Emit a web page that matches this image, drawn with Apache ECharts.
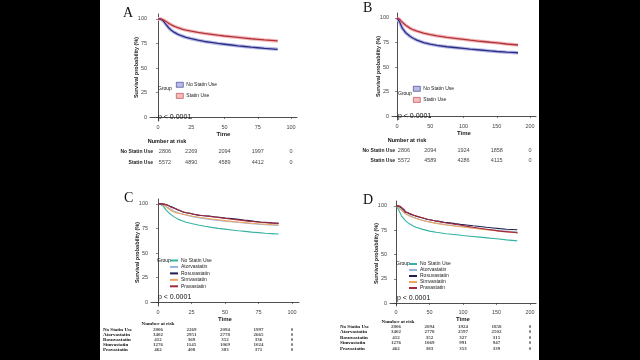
<!DOCTYPE html>
<html><head><meta charset="utf-8">
<script src="https://cdn.jsdelivr.net/npm/echarts@6/dist/echarts.min.js"></script>
<style>html,body{margin:0;padding:0;background:#000}#c{width:640px;height:360px}</style>
</head><body><div id="c"></div>
<script>
// ---------- data ----------
const survTicks = [0, 25, 50, 75, 100];
const timeTicksA = [0, 25, 50, 75, 100];
const timeTicksB = [0, 50, 100, 150, 200];
const groups2 = ['No Statin Use', 'Statin Use'];
const groups5 = ['No Statin Use', 'Atorvastatin', 'Rosuvastatin', 'Simvastatin', 'Pravastatin'];

// Panel A (time, survival %)
const aNoStatin = [[0,100],[2,99.8],[4,98],[6,94.5],[8,91],[10,88.5],[12,86.5],[15,84.3],[18,82.6],[21,81.2],[25,79.8],[30,78.3],[35,77],[40,76],[45,75],[50,74.2],[55,73.4],[60,72.6],[65,71.9],[70,71.2],[75,70.6],[80,70],[85,69.5],[90,69]];
const aStatin = [[0,100],[2,100],[4,99],[6,97.3],[8,95.5],[10,94],[12,92.6],[15,91],[18,89.7],[21,88.6],[25,87.5],[30,86.3],[35,85.2],[40,84.3],[45,83.4],[50,82.6],[55,81.9],[60,81.2],[65,80.5],[70,79.8],[75,79.2],[80,78.6],[85,78.1],[90,77.6]];
// Panel B
const bNoStatin = [[0,100],[2,99],[4,96],[6,92.5],[8,89.5],[10,87.5],[13,85],[16,83],[20,81],[25,79],[30,77.3],[40,74.8],[50,73.2],[60,72],[75,70.6],[90,69.6],[100,68.9],[110,68.2],[125,67.3],[140,66.4],[150,65.8],[165,65.1],[182,64.5]];
const bStatin = [[0,100],[2,99.6],[4,98.5],[6,97],[8,95.5],[10,94.2],[13,92.5],[16,91],[20,89.3],[25,87.7],[30,86.5],[40,84.5],[50,83],[60,81.8],[75,80.2],[90,79],[100,78.2],[110,77.3],[125,76.2],[140,75.2],[150,74.6],[165,73.4],[182,72.4]];
// Panel C
const cNoStatin = [[0,100],[2,99.6],[4,97.5],[6,94],[8,91],[10,88.8],[12,86.8],[15,84.5],[18,82.8],[21,81.3],[25,80],[30,78.5],[35,77.2],[40,76.1],[45,75.1],[50,74.3],[55,73.5],[60,72.7],[65,72],[70,71.3],[75,70.7],[80,70.1],[85,69.7],[90,69.3]];
const cAtorva = [[0,100],[3,99.5],[6,97.5],[9,95],[12,92.8],[15,91],[20,89],[25,87.3],[30,86],[40,84],[50,82.4],[60,81],[70,79.8],[80,78.8],[90,78]];
const cRosuva = [[0,100],[3,99.5],[5,98.8],[7,97.5],[9,96.6],[11,95],[13,93.8],[15,92.2],[18,91],[21,90.5],[24,89.3],[27,88.6],[30,88],[34,87.6],[38,86.9],[42,86.4],[46,85.5],[50,85],[55,84.2],[60,83.5],[64,83],[68,82.2],[72,81.6],[76,81.2],[80,80.7],[85,80.3],[90,80]];
const cSimva = [[0,100],[2,100],[4,98.5],[6,97],[8,95],[10,93],[12,91.8],[14,90.8],[17,90],[20,89.2],[24,88],[28,87],[32,86.2],[36,85.4],[40,84.5],[45,83.8],[50,83],[55,82.2],[60,81.5],[65,80.9],[70,80.3],[75,79.8],[80,79.4],[85,79],[90,78.8]];
const cPrava = [[0,100],[4,99.3],[6,98],[8,96.5],[10,95.4],[13,93.5],[16,91.5],[19,90.5],[23,89.4],[27,88.5],[31,87.9],[35,87],[40,86.2],[45,85.5],[49,84.6],[54,84],[58,83.2],[63,82.5],[67,81.9],[72,81.3],[77,80.8],[82,80.4],[86,80.2],[90,79.9]];
// Panel D
const dNoStatin = [[0,100],[2,99],[4,96],[6,93],[8,90],[10,88],[13,85.5],[16,83.5],[20,81.5],[25,79.5],[30,78],[40,75.8],[50,74],[60,72.8],[75,71.3],[90,70.3],[100,69.5],[110,68.8],[125,67.8],[140,66.8],[150,66.2],[165,65],[181,64]];
const dAtorva = [[0,100],[3,99],[6,97],[9,95],[12,93.3],[16,91.5],[20,90],[25,88.5],[30,87.2],[40,85],[50,83.5],[60,82.2],[75,80.6],[90,79.3],[100,78.5],[115,77.3],[130,76.2],[145,75.2],[160,74.3],[181,73.4]];
const dRosuva = [[0,100],[3,99.5],[5,98],[8,96],[11,94],[14,92.8],[17,91.5],[21,90.5],[25,89.3],[30,88.2],[35,87.5],[40,86.3],[46,85.5],[52,84.6],[58,84],[65,83.2],[72,82.5],[80,81.7],[88,81],[96,80.3],[105,79.5],[115,78.8],[125,78],[135,77.3],[145,76.6],[155,76],[165,75.5],[181,75]];
const dSimva = [[0,100],[3,99.3],[6,97.2],[9,95],[12,93],[16,91],[20,89.6],[25,88.3],[30,87],[40,85],[50,83.4],[60,82],[75,80.3],[90,79],[100,78.2],[115,77],[130,75.8],[145,74.6],[160,73.5],[181,72.5]];
const dPrava = [[0,100],[4,99.3],[7,97.5],[10,95.6],[13,93.5],[17,92],[21,90.7],[26,89.5],[31,88.3],[37,87],[43,85.8],[50,84.6],[58,83.5],[66,82.4],[75,81.4],[85,80.3],[95,79.2],[105,78],[115,77],[125,76],[135,75],[145,74],[155,73.2],[168,72.3],[181,71.5]];

// Numbers at risk
const riskA = [[2806, 2269, 2094, 1997, 0], [5572, 4890, 4589, 4412, 0]];
const riskB = [[2806, 2094, 1924, 1858, 0], [5572, 4589, 4286, 4115, 0]];
const riskC = [[2806, 2269, 2094, 1997, 0], [3402, 2951, 2778, 2665, 0], [412, 369, 352, 336, 0], [1276, 1145, 1069, 1024, 0], [462, 408, 383, 371, 0]];
const riskD = [[2806, 2094, 1924, 1858, 0], [3402, 2778, 2597, 2502, 0], [412, 352, 327, 315, 0], [1276, 1069, 991, 947, 0], [462, 383, 353, 339, 0]];

// ---------- style ----------
const navy = '#2c2e86', navyBand = '#b9bbe6';
const red = '#b3333c', redBand = '#f2bcbc';
const col5 = ['#35b3a0', '#98b4df', '#1f1f4e', '#eea55e', '#a3293f'];
const sans = 'Liberation Sans, Arial, sans-serif';
const serif = 'Liberation Serif, Times New Roman, serif';

const panels = [
  {grid:{left:150, top:14, width:147, height:107}, x:[-6,104.5], y:[-4,105], ticks:timeTicksA,
   risk:{top:146, height:22}, riskData:riskA, groups:groups2, riskFont:sans},
  {grid:{left:392, top:13, width:144, height:107}, x:[-7.5,209], y:[-4,105], ticks:timeTicksB,
   risk:{top:145, height:21}, riskData:riskB, groups:groups2, riskFont:sans},
  {grid:{left:151, top:199, width:148, height:107}, x:[-5.2,105.2], y:[-4,105], ticks:timeTicksA,
   risk:{top:326.8, height:25.3}, riskData:riskC, groups:groups5, riskFont:serif},
  {grid:{left:390, top:201, width:146, height:105}, x:[-9,209], y:[-3,105], ticks:timeTicksB,
   risk:{top:324, height:27}, riskData:riskD, groups:groups5, riskFont:serif}
];

const grid = [], xAxis = [], yAxis = [], series = [];
panels.forEach((p, i) => {
  grid.push(Object.assign({outerBoundsMode:'none', containLabel:false}, p.grid));
  xAxis.push({type:'value', gridIndex:i, min:p.x[0], max:p.x[1],
    axisLine:{lineStyle:{color:'#222', width:0.8}},
    axisTick:{customValues:p.ticks, length:2, lineStyle:{color:'#333', width:0.6}},
    axisLabel:{customValues:p.ticks, fontSize:5.5, color:'#444', margin:3, fontFamily:sans},
    splitLine:{show:false},
    name:'Time', nameLocation:'middle', nameGap:10, nameMoveOverlap:false,
    nameTextStyle:{fontSize:6, fontWeight:'bold', color:'#222', fontFamily:sans}});
  yAxis.push({type:'value', gridIndex:i, min:p.y[0], max:p.y[1],
    axisLine:{show:true, lineStyle:{color:'#222', width:0.8}},
    axisTick:{show:true, customValues:survTicks, length:2, lineStyle:{color:'#333', width:0.6}},
    axisLabel:{customValues:survTicks, fontSize:5.5, color:'#444', margin:3, fontFamily:sans},
    splitLine:{show:false},
    name:'Survival probability (%)', nameLocation:'middle', nameGap:10.5, nameMoveOverlap:false,
    nameTextStyle:{fontSize:5.5, fontWeight:'bold', color:'#222', fontFamily:sans}});
});
// risk table grids (index 4..7)
panels.forEach((p, i) => {
  const gi = 4 + i;
  grid.push({outerBoundsMode:'none', containLabel:false, left:p.grid.left, width:p.grid.width, top:p.risk.top, height:p.risk.height});
  xAxis.push({type:'value', gridIndex:gi, min:p.x[0], max:p.x[1], show:false});
  const small = p.groups.length > 2;
  yAxis.push({type:'category', gridIndex:gi, data:p.groups, inverse:true,
    axisLine:{show:false}, axisTick:{show:false}, splitLine:{show:false},
    axisLabel: small
      ? {interval:0, hideOverlap:false, fontSize:5, fontWeight:'bold', color:'#111', fontFamily:serif, align:'left', margin:(i===2?48:50)}
      : {interval:0, hideOverlap:false, fontSize:5, fontWeight:'bold', color:'#222', fontFamily:sans, margin:-3}});
  const data = [];
  p.riskData.forEach((row, r) => row.forEach((n, k) => {
    const item = {value:[p.ticks[k], p.groups[r], n]};
    if (!small && k === 0) item.label = {offset:[7, 0]};
    data.push(item);
  }));
  series.push({type:'scatter', xAxisIndex:gi, yAxisIndex:gi, symbolSize:0, silent:true, data,
    label:{show:true, position:'inside', formatter:(q) => String(q.value[2]),
      fontSize:small ? 5 : 5.5, fontWeight:small ? 'bold' : 'normal', color:'#111',
      fontFamily:p.riskFont}});
});

function line(name, gi, data, color, width, z, step) {
  return {type:'line', name, xAxisIndex:gi, yAxisIndex:gi, data, showSymbol:false, symbol:'none',
    step: step || false, smooth:false, silent:true, z:z||2,
    lineStyle:{color, width}, itemStyle:{color}};
}
// A
series.push(line('bandA1', 0, aNoStatin, navyBand, 3.5, 1));
series.push(line('bandA2', 0, aStatin, redBand, 3.5, 1));
series.push(line('No Statin Use', 0, aNoStatin, navy, 1.3, 3));
series.push(line('Statin Use', 0, aStatin, red, 1.3, 3));
// B
series.push(line('bandB1', 1, bNoStatin, navyBand, 3.5, 1));
series.push(line('bandB2', 1, bStatin, redBand, 3.5, 1));
series.push(line('No Statin Use', 1, bNoStatin, navy, 1.3, 3));
series.push(line('Statin Use', 1, bStatin, red, 1.3, 3));
// C
[cNoStatin, cAtorva, cRosuva, cSimva, cPrava].forEach((d, k) => {
  series.push(line(groups5[k], 2, d, col5[k], 1.1, 3 + (k===2||k===4 ? 1 : 0), (k===2||k===4) ? 'end' : false));
});
// D
[dNoStatin, dAtorva, dRosuva, dSimva, dPrava].forEach((d, k) => {
  series.push(line(groups5[k], 3, d, col5[k], 1.1, 3 + (k===2||k===4 ? 1 : 0), (k===2||k===4) ? 'end' : false));
});

function legend2(left, top) {
  return {left, top, orient:'vertical', itemWidth:7, itemHeight:5, itemGap:5.5, selectedMode:false,
    textStyle:{fontSize:5, color:'#222', fontFamily:sans, padding:[0,0,0,-2]}, padding:0,
    data:[{name:'No Statin Use', icon:'rect', itemStyle:{color:navyBand, borderColor:navy, borderWidth:0.6}, lineStyle:{color:navy, width:1}},
          {name:'Statin Use', icon:'rect', itemStyle:{color:redBand, borderColor:red, borderWidth:0.6}, lineStyle:{color:red, width:1}}]};
}
function legend5(left, top, gap) {
  return {left, top, orient:'vertical', itemWidth:8, itemHeight:2, itemGap:gap, selectedMode:false,
    textStyle:{fontSize:5, color:'#222', fontFamily:sans, padding:[0,0,0,-2]}, padding:0,
    data: groups5.map((g, k) => ({name:g, icon:'rect', itemStyle:{color:col5[k], borderWidth:0}, lineStyle:{color:col5[k], width:1.2}}))};
}

const txt = (x, y, text, style) => ({type:'text', x, y, silent:true,
  style:Object.assign({text, fill:'#111', font:'5.5px ' + sans, textVerticalAlign:'middle'}, style)});

const option = {
  backgroundColor:'#000',
  animation:false,
  grid, xAxis, yAxis, series,
  legend:[legend2(176, 82), legend2(413, 86), legend5(170, 258, 1.45), legend5(409, 261.5, 1)],
  graphic:[
    {type:'rect', shape:{x:100, y:0, width:439, height:360}, style:{fill:'#fff'}, z:-10, silent:true},
    txt(123, 13, 'A', {font:'14px ' + serif, fill:'#111'}),
    txt(363, 8, 'B', {font:'14px ' + serif, fill:'#111'}),
    txt(124, 198, 'C', {font:'14px ' + serif, fill:'#111'}),
    txt(363, 200, 'D', {font:'14px ' + serif, fill:'#111'}),
    txt(158, 89, 'Group', {font:'5px ' + sans}),
    txt(398, 94, 'Group', {font:'5px ' + sans}),
    txt(157, 261, 'Group', {font:'5px ' + sans}),
    txt(396, 264, 'Group', {font:'5px ' + sans}),
    txt(158, 117, 'p < 0.0001', {font:'7px ' + sans}),
    txt(398, 116, 'p < 0.0001', {font:'7px ' + sans}),
    txt(158, 297, 'p < 0.0001', {font:'7px ' + sans}),
    txt(397, 298, 'p < 0.0001', {font:'7px ' + sans}),
    txt(167, 141, 'Number at risk', {font:'bold 5.5px ' + sans, textAlign:'center'}),
    txt(407, 140, 'Number at risk', {font:'bold 5.5px ' + sans, textAlign:'center'}),
    txt(158, 324, 'Number at risk', {font:'bold 5px ' + serif, textAlign:'center'}),
    txt(398, 322, 'Number at risk', {font:'bold 5px ' + serif, textAlign:'center'})
  ]
};
const chart = echarts.init(document.getElementById('c'), null, {renderer:'canvas'});
chart.setOption(option);
</script></body></html>
